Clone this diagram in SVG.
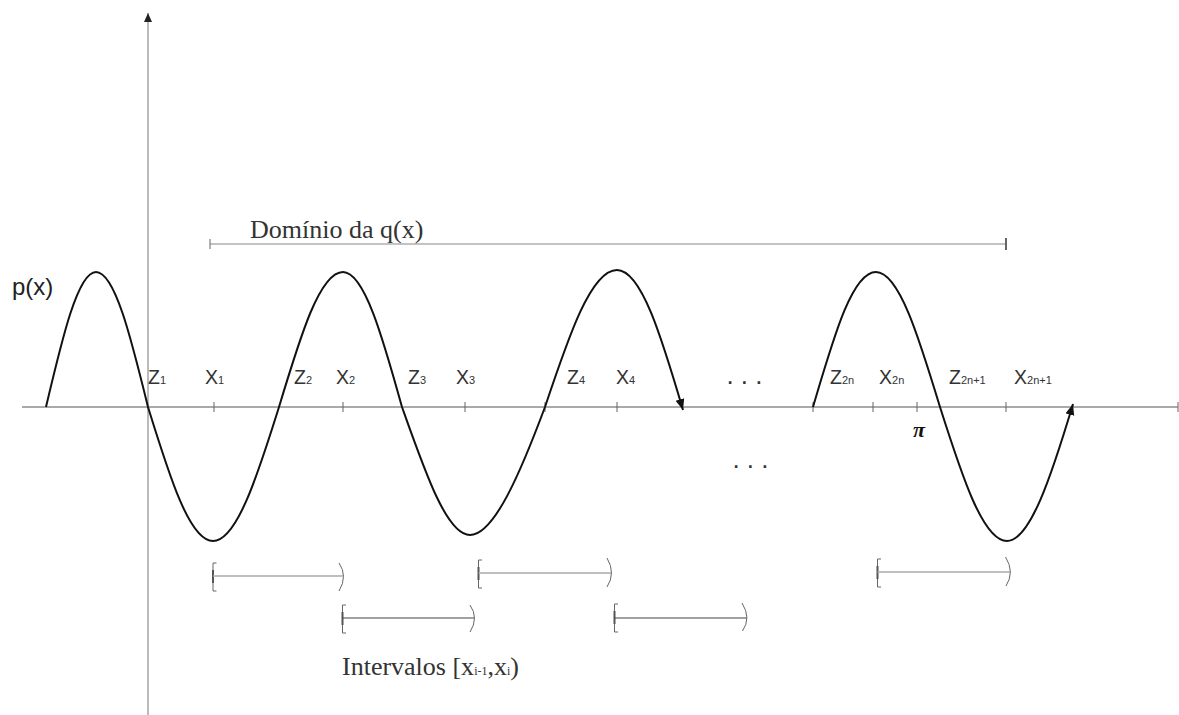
<svg xmlns="http://www.w3.org/2000/svg" width="1179" height="715" viewBox="0 0 1179 715">
<style>
.lbl{font-family:"Liberation Sans",Arial,sans-serif;font-size:19.5px;fill:#333}
.sub{font-size:11px}
.ser{font-family:"Liberation Serif","Times New Roman",serif;font-size:26px;fill:#333}
.axis{stroke:#555;stroke-width:1;fill:none}
.tick{stroke:#666;stroke-width:1}
.curve{stroke:#111;stroke-width:2;fill:none}
.brk{stroke:#666;stroke-width:1;fill:none}
.lite{stroke:#aaa;stroke-width:1.5}
.dark{stroke:#444;stroke-width:1.2}
</style>
<defs>
<marker id="ah" markerUnits="userSpaceOnUse" markerWidth="12" markerHeight="10" refX="11" refY="4.5" orient="auto">
<path d="M0,0 L11,4.5 L0,9 z" fill="#111"/>
</marker>
<marker id="ahy" markerUnits="userSpaceOnUse" markerWidth="10" markerHeight="10" refX="9" refY="4" orient="auto">
<path d="M0,0 L9,4 L0,8 z" fill="#222"/>
</marker>
</defs>
<rect width="1179" height="715" fill="#fff"/>

<g id="axes">
<line class="axis" x1="22" y1="407" x2="1178" y2="407"/>
<line x1="148" y1="715" x2="148" y2="13" stroke="#777" stroke-width="1" marker-end="url(#ahy)"/>
<g id="ticks">
<line class="tick" x1="214" y1="402" x2="214" y2="412"/>
<line class="tick" x1="343" y1="402" x2="343" y2="412"/>
<line class="tick" x1="465" y1="402" x2="465" y2="412"/>
<line class="tick" x1="545" y1="402" x2="545" y2="412"/>
<line class="tick" x1="617" y1="402" x2="617" y2="412"/>
<line class="tick" x1="813" y1="402" x2="813" y2="412"/>
<line class="tick" x1="873" y1="402" x2="873" y2="412"/>
<line class="tick" x1="917" y1="402" x2="917" y2="412"/>
<line class="tick" x1="1006" y1="402" x2="1006" y2="412"/>
<line class="tick" x1="1178" y1="402" x2="1178" y2="412"/>
</g>
</g>

<g id="connectors">
<path id="curve1" class="curve" marker-end="url(#ah)" d="M46,407 C62.3,337.8 77.9,272 96,272 C114.8,272 131,337.8 148,407 C169.2,475.6 189.5,541 213,541 C236.7,541 257.5,475.6 279,407 C299.9,337.8 319.6,272 343,272 C364.3,272 382.8,337.8 402,407 C425.3,472.6 446.8,535 470,535 C494.0,535 520.5,472.6 545,407 C568.5,336.8 591,270 617,270 C641.3,270 661.5,337 683,410"/>
<path id="curve2" class="curve" marker-end="url(#ah)" d="M813,407 C833.5,337.8 852,272 876,272 C899,272 919,337.8 940,407 C961.8,475.6 983,541 1007,541 C1030,541 1051.5,475.6 1073,404"/>
</g>

<g id="domain">
<line x1="210" y1="244" x2="1006" y2="244" stroke="#888" stroke-width="1.2"/>
<line x1="210" y1="239" x2="210" y2="249" stroke="#666" stroke-width="1"/>
<line x1="1006" y1="238" x2="1006" y2="250" stroke="#666" stroke-width="2"/>
<text class="ser" x="250" y="238">Domínio da q(x)</text>
</g>

<g id="intervals">
<g id="int1">
<path class="brk" d="M216.5,563 H213 V591 H216.5"/>
<line x1="213" y1="570" x2="213" y2="583" stroke="#555" stroke-width="2"/>
<line class="lite" x1="213" y1="576" x2="343" y2="576"/>
<path class="brk" d="M339,563 Q348,576 339,591"/>
</g>
<g id="int2">
<path class="brk" d="M346,605 H342.5 V633 H346"/>
<line x1="342.5" y1="612" x2="342.5" y2="625" stroke="#555" stroke-width="2"/>
<line class="dark" x1="342.5" y1="618" x2="474.5" y2="618"/>
<path class="brk" d="M470,605 Q479,618 470,632"/>
</g>
<g id="int3">
<path class="brk" d="M482,560 H478.5 V588 H482"/>
<line x1="478.5" y1="567" x2="478.5" y2="580" stroke="#555" stroke-width="2"/>
<line class="lite" x1="478.5" y1="573" x2="611" y2="573"/>
<path class="brk" d="M607,558 Q616,573 607,587"/>
</g>
<g id="int4">
<path class="brk" d="M618,604 H614.5 V632 H618"/>
<line x1="614.5" y1="611" x2="614.5" y2="624" stroke="#555" stroke-width="2"/>
<line class="dark" x1="614.5" y1="618" x2="747" y2="618"/>
<path class="brk" d="M742,603 Q751.5,618 742.5,631"/>
</g>
<g id="int5">
<path class="brk" d="M881,559 H877.5 V587 H881"/>
<line x1="877.5" y1="566" x2="877.5" y2="579" stroke="#555" stroke-width="2"/>
<line class="lite" x1="877.5" y1="572" x2="1010" y2="572"/>
<path class="brk" d="M1005.5,557 Q1015,572 1006,586"/>
</g>
<text class="ser" x="342" y="675">Intervalos [x<tspan font-size="12">i-1</tspan>,x<tspan font-size="12">i</tspan>)</text>
</g>

<g id="labels">
<text x="12" y="295" font-family="Liberation Sans,Arial,sans-serif" font-size="24" fill="#222">p(x)</text>
<text class="lbl" x="148" y="384">Z<tspan class="sub">1</tspan></text>
<text class="lbl" x="205" y="384">X<tspan class="sub">1</tspan></text>
<text class="lbl" x="294" y="384">Z<tspan class="sub">2</tspan></text>
<text class="lbl" x="336" y="384">X<tspan class="sub">2</tspan></text>
<text class="lbl" x="408" y="384">Z<tspan class="sub">3</tspan></text>
<text class="lbl" x="456" y="384">X<tspan class="sub">3</tspan></text>
<text class="lbl" x="567" y="384">Z<tspan class="sub">4</tspan></text>
<text class="lbl" x="616" y="384">X<tspan class="sub">4</tspan></text>
<text class="lbl" x="830" y="384">Z<tspan class="sub">2n</tspan></text>
<text class="lbl" x="879" y="384">X<tspan class="sub">2n</tspan></text>
<text class="lbl" x="949" y="384">Z<tspan class="sub">2n+1</tspan></text>
<text class="lbl" x="1014" y="384">X<tspan class="sub">2n+1</tspan></text>
<text x="726.4" y="384" font-family="Liberation Sans,Arial,sans-serif" font-size="26" fill="#333">. . .</text>
<text x="732.4" y="467.5" font-family="Liberation Sans,Arial,sans-serif" font-size="26" fill="#333">. . .</text>
<text x="919" y="437" text-anchor="middle" font-family="Liberation Serif,Times New Roman,serif" font-size="22" font-weight="bold" font-style="italic" fill="#111">π</text>
</g>
</svg>
